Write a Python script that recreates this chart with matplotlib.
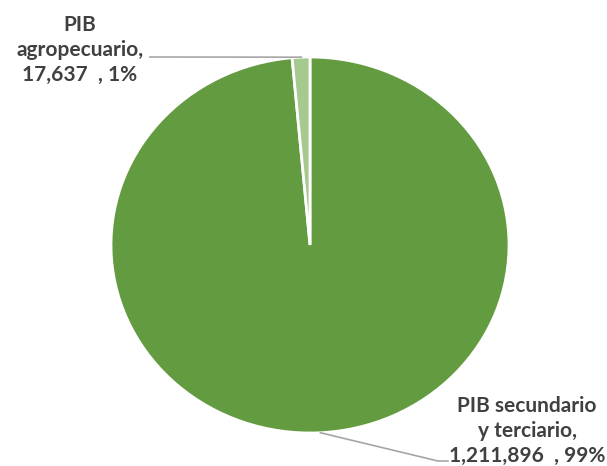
import numpy as np
import matplotlib.pyplot as plt

categories = ['PIB secundario\ny terciario,', 'PIB\nagropecuario,']
values = [1211896, 17637]
pct_labels = ['99%', '1%']
colors = ['#639B40', '#A6C990']
TEXT_COLOR = '#404040'

fig = plt.figure(figsize=(6.07, 4.66), dpi=100)
# pie is slightly stretched in the reference, so no equal aspect
ax = fig.add_axes([111/607, 33/466, 398/607, 376/466])
wedges, _ = ax.pie(values, colors=colors, startangle=90, counterclock=False,
                   wedgeprops=dict(edgecolor='white', linewidth=2))
ax.set_aspect('auto')
ax.set_xlim(-1, 1)
ax.set_ylim(-1, 1)

def fig_pt(px, py):
    # pixel position (from top-left) -> figure fraction
    return (px / 607, 1 - py / 466)

label_pos = [fig_pt(527, 431), fig_pt(80, 50)]
elbow = [fig_pt(438, 461), None]
line_end = [fig_pt(448, 461), fig_pt(150, 57)]
anchor_ang = [-87.0, 92.5]

for i, w in enumerate(wedges):
    txt = f'{categories[i]}\n{values[i]:,}  , {pct_labels[i]}'
    fig.text(label_pos[i][0], label_pos[i][1], txt, ha='center', va='center',
             fontsize=15, fontweight='bold', color=TEXT_COLOR,
             family=['Lato', 'DejaVu Sans'], linespacing=1.3)
    a = np.deg2rad(anchor_ang[i])
    pts = [ax.transData.transform((np.cos(a), np.sin(a)))]
    if elbow[i] is not None:
        pts.append(fig.transFigure.transform(elbow[i]))
    pts.append(fig.transFigure.transform(line_end[i]))
    pts = fig.transFigure.inverted().transform(np.array(pts))
    fig.add_artist(plt.Line2D(pts[:, 0], pts[:, 1], color='#A6A6A6',
                              linewidth=1.2, transform=fig.transFigure))

fig.savefig('out.png', dpi=100)
